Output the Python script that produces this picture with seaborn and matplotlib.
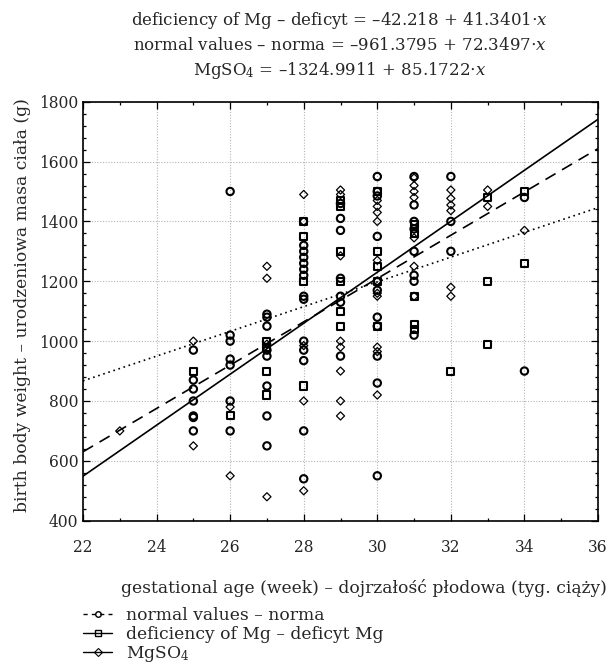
import matplotlib
matplotlib.use("Agg")
import matplotlib.pyplot as plt
from matplotlib.lines import Line2D
from matplotlib.ticker import MultipleLocator
import seaborn as sns
import pandas as pd

# ---------------- data ----------------
normal_x = [25, 25, 25, 25, 25, 25, 25,
            26, 26, 26, 26, 26, 26, 26,
            27, 27, 27, 27, 27, 27, 27, 27,
            28, 28, 28, 28, 28, 28, 28, 28, 28, 28, 28, 28, 28,
            29, 29, 29, 29, 29, 29, 29,
            30, 30, 30, 30, 30, 30, 30, 30, 30, 30, 30,
            31, 31, 31, 31, 31, 31, 31, 31,
            32, 32, 32,
            34, 34]
normal_y = [970, 870, 840, 800, 750, 745, 700,
            1500, 1020, 1000, 940, 920, 800, 700,
            1090, 1080, 1050, 970, 950, 850, 750, 650,
            1320, 1300, 1280, 1260, 1240, 1220, 1150, 1140, 1000, 970, 935, 700, 540,
            1460, 1410, 1370, 1210, 1150, 1130, 950,
            1550, 1500, 1485, 1350, 1200, 1170, 1080, 1050, 950, 860, 550,
            1550, 1455, 1400, 1375, 1300, 1220, 1200, 1020,
            1550, 1400, 1300,
            1480, 900]

deficit_x = [25, 26, 27, 27, 27, 27, 28, 28, 28, 28,
             29, 29, 29, 29, 29, 29, 30, 30, 30, 30, 30,
             31, 31, 31, 31, 31, 32, 33, 33, 33, 34, 34]
deficit_y = [900, 750, 1000, 980, 900, 820, 1400, 1350, 1200, 850,
             1470, 1450, 1300, 1200, 1100, 1050, 1500, 1300, 1250, 1200, 1050,
             1390, 1360, 1150, 1055, 1040, 900, 1480, 1200, 990, 1500, 1260]

mgso4_x = [23, 25, 25, 26, 26, 27, 27, 27, 27, 28, 28, 28, 28, 28,
           29, 29, 29, 29, 29, 29, 29, 29,
           30, 30, 30, 30, 30, 30, 30, 30, 30, 30, 30,
           31, 31, 31, 31, 31, 31, 31,
           32, 32, 32, 32, 32, 32, 33, 33, 34]
mgso4_y = [700, 1000, 650, 780, 550, 1250, 1210, 990, 480, 1490, 1400, 985, 800, 500,
           1505, 1490, 1285, 1000, 980, 900, 800, 750,
           1470, 1450, 1430, 1400, 1270, 1200, 1160, 1150, 980, 965, 820,
           1545, 1520, 1500, 1480, 1345, 1250, 1150,
           1505, 1477, 1455, 1436, 1180, 1150, 1505, 1450, 1370]

# regression lines (intercept, slope)
line_names = ["deficit", "normal", "mgso4"]
line_intercepts = [-42.218, -961.3795, -1324.9911]
line_slopes = [41.3401, 72.3497, 85.1722]
x_range = [22, 36]

x_ticks = [22, 24, 26, 28, 30, 32, 34, 36]
y_ticks = [400, 600, 800, 1000, 1200, 1400, 1600, 1800]

title_lines = [
    r"deficiency of Mg – deficyt = –42.218 + 41.3401$\cdot x$",
    r"normal values – norma = –961.3795 + 72.3497$\cdot x$",
    r"MgSO$_4$ = –1324.9911 + 85.1722$\cdot x$",
]
legend_labels = ["normal values – norma", "deficiency of Mg – deficyt Mg", r"MgSO$_4$"]
x_label = "gestational age (week) – dojrzałość płodowa (tyg. ciąży)"
y_label = "birth body weight – urodzeniowa masa ciała (g)"

# ---------------- style ----------------
sns.set_theme(style="ticks")
plt.rcParams["font.family"] = ["DejaVu Serif"]
plt.rcParams["mathtext.fontset"] = "dejavuserif"
FS_TICK = 11.2
FS_TITLE = 12.0
FS_LABEL = 12.3

W, H = 613, 672
fig = plt.figure(figsize=(W / 100, H / 100), dpi=100)
ax = fig.add_axes([83 / W, 1 - 520.7 / H, 515 / W, 419 / H])

# scatter points
groups = [
    (normal_x, normal_y, "o", 28, 1.5),
    (deficit_x, deficit_y, "s", 26, 1.5),
    (mgso4_x, mgso4_y, "D", 17, 0.9),
]
for xs, ys, mk, s, lw in groups:
    df = pd.DataFrame({"x": xs, "y": ys})
    sns.scatterplot(data=df, x="x", y="y", marker=mk, s=s, ax=ax,
                    facecolor="none", edgecolor="black", linewidth=lw, zorder=3)
for coll in ax.collections:
    coll.set_facecolor("none")
    coll.set_edgecolor("black")

# regression lines
styles = {"deficit": (0, (1.0, 2.2)), "normal": (0, (7, 4.5)), "mgso4": "-"}
for name, a, b in zip(line_names, line_intercepts, line_slopes):
    ldf = pd.DataFrame({"x": x_range, "y": [a + b * v for v in x_range]})
    sns.lineplot(data=ldf, x="x", y="y", ax=ax, color="black", linewidth=1.2,
                 linestyle=styles[name], zorder=2)

ax.set_xlim(22, 36)
ax.set_ylim(400, 1800)
ax.set_xticks(x_ticks)
ax.set_yticks(y_ticks)
ax.xaxis.set_minor_locator(MultipleLocator(1))
ax.yaxis.set_minor_locator(MultipleLocator(40))
ax.tick_params(which="both", direction="in", top=True, right=True,
               color="black", width=0.9)
ax.tick_params(which="major", length=5, labelsize=FS_TICK)
ax.tick_params(axis="x", which="major", pad=13)
ax.tick_params(axis="y", which="major", pad=3.5)
ax.tick_params(which="minor", length=2.5)
for sp in ax.spines.values():
    sp.set_visible(True)
    sp.set_color("black")
    sp.set_linewidth(1.2)
ax.grid(which="major", linestyle=(0, (1, 1.5)), color="#b5b5b5", linewidth=0.8)
ax.set_axisbelow(True)

ax.set_xlabel(x_label, fontsize=FS_LABEL)
ax.xaxis.set_label_coords((364 - 83) / 515, -(579 - 520.7) / 419)
ax.set_ylabel(y_label, fontsize=FS_LABEL)
ax.yaxis.set_label_coords(-(83 - 31) / 515, (520.7 - 305) / 419)

for i, t in enumerate(title_lines):
    fig.text(340 / W, 1 - (25 + 25 * i) / H, t, ha="center", va="baseline",
             fontsize=FS_TITLE)

handles = [
    Line2D([], [], color="black", linestyle=(0, (3, 3)), linewidth=1.0,
           marker="o", markersize=4, markerfacecolor="none", markeredgewidth=1.0),
    Line2D([], [], color="black", linestyle="-", linewidth=1.0,
           marker="s", markersize=5, markerfacecolor="none", markeredgewidth=1.0),
    Line2D([], [], color="black", linestyle="-", linewidth=1.0,
           marker="D", markersize=4, markerfacecolor="none", markeredgewidth=0.8),
]
fig.legend(handles, legend_labels, loc="upper left",
           bbox_to_anchor=(83 / W, 1 - 607 / H), frameon=False, fontsize=FS_LABEL,
           handlelength=1.7, handletextpad=0.8, labelspacing=0.1,
           borderpad=0, borderaxespad=0)

fig.savefig("out.png", dpi=100)
